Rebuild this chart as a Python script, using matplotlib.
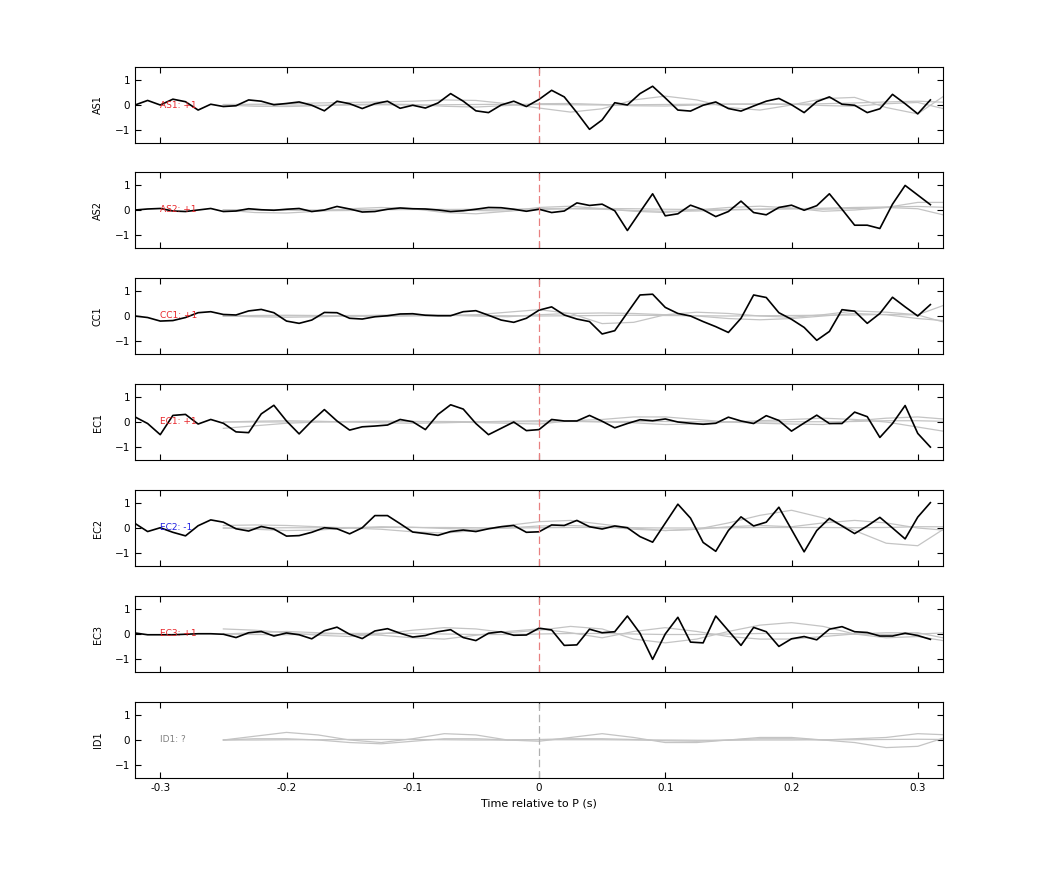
import numpy as np
import matplotlib.pyplot as plt

# ------------------------------
# data
# ------------------------------
t_black = np.round(np.arange(-0.32, 0.315, 0.01), 2)   # 64 samples
t_gray = np.round(np.arange(-0.25, 0.33, 0.025), 3)     # 24 samples

stations = ['AS1', 'AS2', 'CC1', 'EC1', 'EC2', 'EC3', 'ID1']
labels = ['AS1: +1', 'AS2: +1', 'CC1: +1', 'EC1: +1', 'EC2: -1', 'EC3: +1', 'ID1: ?']
label_colors = ['#e8262a', '#e8262a', '#e8262a', '#e8262a', '#2020e0', '#e8262a', '#808080']

as1 = [0, 0.18, 0, 0.23, 0.13, -0.2, 0.03, -0.06, -0.03, 0.2, 0.15, 0.01, 0.06, 0.12, -0.01, -0.23,
       0.15, 0.05, -0.14, 0.05, 0.15, -0.13, -0.01, -0.12, 0.08, 0.45, 0.15, -0.23, -0.3, 0, 0.15, -0.06,
       0.22, 0.58, 0.32, -0.3, -0.96, -0.59, 0.09, 0, 0.45, 0.74, 0.28, -0.2, -0.24, -0.01, 0.12, -0.14,
       -0.24, -0.04, 0.15, 0.26, 0.01, -0.3, 0.13, 0.32, 0.03, -0.01, -0.3, -0.15, 0.42, 0.05, -0.35, 0.2]
as2 = [0, 0.04, 0.06, -0.04, -0.06, 0, 0.06, -0.06, -0.04, 0.05, 0.01, -0.01, 0.03, 0.06, -0.06, 0,
       0.14, 0.04, -0.08, -0.06, 0.03, 0.08, 0.05, 0.04, 0, -0.06, -0.03, 0.03, 0.1, 0.09, 0.03, -0.05,
       0.03, -0.1, -0.04, 0.28, 0.18, 0.23, -0.03, -0.81, -0.08, 0.64, -0.23, -0.15, 0.19, 0.01, -0.26, -0.06,
       0.35, -0.1, -0.19, 0.1, 0.19, -0.01, 0.17, 0.64, 0.03, -0.6, -0.6, -0.73, 0.23, 0.97, 0.59, 0.21]
cc1 = [0, -0.06, -0.2, -0.18, -0.06, 0.13, 0.17, 0.06, 0.04, 0.2, 0.26, 0.13, -0.2, -0.29, -0.16, 0.14,
       0.13, -0.09, -0.12, -0.03, 0.01, 0.08, 0.09, 0.03, 0.01, 0.01, 0.17, 0.21, 0.03, -0.16, -0.25, -0.09,
       0.23, 0.36, 0.04, -0.12, -0.22, -0.71, -0.58, 0.13, 0.83, 0.86, 0.34, 0.1, 0, -0.22, -0.42, -0.65,
       -0.09, 0.83, 0.73, 0.13, -0.13, -0.45, -0.96, -0.61, 0.25, 0.19, -0.29, 0.1, 0.74, 0.36, 0, 0.45]
ec1 = [0.2, -0.06, -0.5, 0.26, 0.3, -0.08, 0.1, -0.05, -0.39, -0.42, 0.32, 0.66, 0.04, -0.47, 0.04, 0.49,
       0.04, -0.32, -0.19, -0.16, -0.12, 0.1, 0.01, -0.3, 0.3, 0.68, 0.51, -0.06, -0.5, -0.25, 0, -0.34,
       -0.3, 0.1, 0.04, 0.04, 0.26, 0.03, -0.23, -0.06, 0.09, 0.05, 0.12, 0, -0.05, -0.09, -0.05, 0.19,
       0.04, -0.06, 0.25, 0.06, -0.36, -0.04, 0.27, -0.06, -0.06, 0.39, 0.21, -0.61, -0.06, 0.65, -0.45, -0.99]
ec2 = [0.18, -0.14, 0.01, -0.17, -0.31, 0.09, 0.32, 0.23, -0.03, -0.12, 0.06, -0.04, -0.32, -0.3, -0.17, 0.01,
       -0.03, -0.23, 0.01, 0.49, 0.49, 0.17, -0.16, -0.22, -0.29, -0.14, -0.08, -0.14, -0.03, 0.05, 0.1, -0.17,
       -0.15, 0.12, 0.1, 0.3, 0.05, -0.04, 0.08, 0.01, -0.34, -0.56, 0.19, 0.94, 0.39, -0.57, -0.92, -0.1,
       0.44, 0.08, 0.23, 0.82, -0.06, -0.94, -0.1, 0.38, 0.08, -0.22, 0.08, 0.42, 0, -0.43, 0.43, 1.0]
ec3 = [0.04, -0.03, -0.03, -0.03, -0.01, 0.01, 0.01, -0.01, -0.14, 0.05, 0.1, -0.08, 0.04, -0.03, -0.19, 0.13,
       0.27, -0.01, -0.18, 0.12, 0.21, 0.03, -0.12, -0.06, 0.09, 0.17, -0.14, -0.26, 0.03, 0.09, -0.05, -0.04,
       0.23, 0.16, -0.45, -0.43, 0.19, 0.05, 0.09, 0.71, 0.03, -1.0, 0, 0.66, -0.32, -0.35, 0.71, 0.13,
       -0.45, 0.26, 0.09, -0.49, -0.19, -0.1, -0.23, 0.19, 0.29, 0.09, 0.06, -0.08, -0.08, 0.03, -0.06, -0.21]
black_traces = [as1, as2, cc1, ec1, ec2, ec3, None]

# smooth-ish reference traces (gray), sampled every 0.025 s from -0.25
gray_traces = [
    [[0.02, 0.03, 0.05, 0.08, 0.1, 0.12, 0.15, 0.2, 0.18, 0.05, -0.12, -0.28, -0.15, 0.2, 0.35, 0.2, -0.1, -0.2, 0.0, 0.25, 0.3, -0.1, -0.35, 0.5],
     [0, -0.05, -0.06, -0.03, 0.02, 0.04, 0.02, -0.05, -0.08, -0.02, 0.05, 0.06, 0.02, -0.03, -0.04, 0, 0.03, 0.05, 0.03, -0.02, -0.05, 0.05, 0.1, -0.2],
     [0, 0.01, 0, -0.01, 0, 0.01, 0, 0.01, 0.02, 0.03, 0.02, 0.01, 0, 0.01, 0.02, 0.03, 0.04, 0.02, 0.03, 0.05, 0.08, 0.12, 0.15, 0.1]],
    [[0, -0.1, -0.12, -0.05, 0.05, 0.1, 0.05, -0.1, -0.15, -0.05, 0.1, 0.15, 0.05, -0.05, -0.1, 0, 0.1, 0.15, 0.08, -0.05, 0, 0.1, 0.3, 0.3],
     [0, 0.02, 0, -0.03, -0.02, 0.02, 0.04, 0.02, -0.02, -0.04, 0.02, 0.05, 0.03, -0.02, -0.05, -0.04, 0, 0.03, 0.05, 0.03, 0.06, 0.1, 0.05, -0.25],
     [0, 0, 0, 0, 0.01, 0.01, 0.02, 0.02, 0.03, 0.03, 0.05, 0.06, 0.06, 0.05, 0.03, 0.02, 0.02, 0.03, 0.05, 0.07, 0.1, 0.12, 0.14, 0.1]],
    [[0, 0.02, 0.03, 0.02, 0, -0.02, 0, 0.02, 0.05, 0.15, 0.25, 0.1, -0.3, -0.25, 0.05, 0.15, 0.1, 0, -0.05, 0.05, 0.2, 0.15, 0.05, 0.5],
     [0, -0.03, -0.05, -0.03, 0, 0.03, 0.05, 0.03, 0, -0.03, 0.05, 0.1, 0.12, 0.1, 0.05, 0, -0.1, -0.15, -0.1, 0, 0.1, 0.05, -0.1, -0.2],
     [0, 0, 0.01, 0.01, 0.02, 0.02, 0.03, 0.03, 0.02, 0.01, 0, 0.01, 0.02, 0.03, 0.02, 0.01, 0, 0.01, 0.02, 0.03, 0.04, 0.06, 0.04, -0.3]],
    [[-0.25, -0.15, -0.05, 0.0, 0.02, 0.03, 0.02, 0.0, -0.02, -0.05, -0.08, 0.05, 0.1, 0.2, 0.2, 0.1, 0.0, -0.05, -0.08, -0.1, 0.05, 0.15, 0.2, 0.1],
     [0, 0.03, 0.05, 0.03, 0, -0.03, -0.05, -0.03, 0, 0.03, 0.05, 0.03, 0, -0.03, -0.1, -0.08, 0, 0.05, 0.1, 0.15, 0.1, 0, -0.2, -0.4],
     [0, 0, 0, 0.01, 0.01, 0.02, 0.02, 0.02, 0.01, 0.01, 0.01, 0.02, 0.02, 0.02, 0.02, 0.01, 0.01, 0, 0.01, 0.01, 0.02, 0.05, 0.05, 0.02]],
    [[0.1, 0.12, 0.1, 0.05, 0, -0.05, -0.15, -0.2, -0.1, 0.1, 0.25, 0.3, 0.15, 0, -0.1, -0.05, 0.2, 0.5, 0.7, 0.4, -0.1, -0.6, -0.7, 0.1],
     [0, -0.05, -0.1, -0.08, 0, 0.05, 0.03, -0.02, -0.05, 0, 0.08, 0.1, 0.05, -0.05, -0.1, -0.05, 0.05, 0.1, 0.05, 0.2, 0.3, 0.2, 0.0, -0.1],
     [0, 0, 0.01, 0.01, 0.02, 0.02, 0.02, 0.02, 0.01, 0, 0.01, 0.02, 0.02, 0.01, 0, 0, 0.01, 0.02, 0.02, 0.02, 0.01, 0.02, 0.05, 0.05]],
    [[0.2, 0.15, 0.05, -0.05, -0.1, 0.0, 0.15, 0.25, 0.2, 0.05, 0.15, 0.3, 0.2, -0.2, -0.35, -0.2, 0.1, 0.35, 0.45, 0.3, 0.0, -0.15, -0.1, -0.3],
     [0, 0.05, 0.1, 0.05, 0, -0.05, -0.15, -0.2, -0.05, 0.1, 0.2, 0.05, -0.15, 0.1, 0.25, 0.1, -0.1, -0.2, -0.2, -0.1, 0, 0.05, 0.05, -0.2],
     [0, -0.02, -0.03, 0, 0.02, 0.03, 0.02, 0, -0.02, -0.02, 0, 0.02, 0.02, 0, -0.02, -0.02, 0, 0.02, 0.03, 0.02, 0, -0.02, 0, 0.05]],
    [[0, 0.15, 0.3, 0.2, 0.0, -0.1, 0.05, 0.25, 0.2, 0.0, -0.05, 0.1, 0.25, 0.1, -0.1, -0.1, 0.0, 0.1, 0.1, 0.0, -0.1, -0.3, -0.25, 0.15],
     [0, 0.05, 0.05, 0.0, -0.1, -0.15, -0.05, 0.05, 0.05, 0, 0.02, 0.05, 0.05, 0.02, -0.03, -0.05, 0, 0.05, 0.05, 0.0, 0.05, 0.1, 0.25, 0.2],
     [0, 0, 0.01, 0.01, 0.02, 0.02, 0.02, 0.01, 0, 0, 0.01, 0.01, 0.01, 0, 0, -0.01, -0.01, 0, 0, 0.01, 0.01, 0.02, 0.03, 0.02]],
]

# ------------------------------
# plotting
# ------------------------------
fig = plt.figure(figsize=(10.42, 8.75), dpi=100)
W, H = 1042, 875
left, right = 135, 943
tops = [67, 172, 278, 384, 490, 596, 702]
ph = 76

for i, st in enumerate(stations):
    ax = fig.add_axes([left / W, 1 - (tops[i] + ph) / H, (right - left) / W, ph / H])
    for g in gray_traces[i]:
        ax.plot(t_gray, g, color='#c4c4c4', lw=0.9)
    if black_traces[i] is not None:
        ax.plot(t_black, black_traces[i], color='black', lw=1.2)
    ax.axvline(0, color='#e88080' if i < 6 else '#b0b0b0', lw=0.9, dashes=(6, 3))
    ax.text(-0.3, 0, labels[i], color=label_colors[i], fontsize=6.5, va='center', ha='left')
    ax.set_xlim(-0.32, 0.32)
    ax.set_ylim(-1.5, 1.5)
    ax.set_yticks([-1, 0, 1])
    ax.set_xticks([-0.3, -0.2, -0.1, 0, 0.1, 0.2, 0.3])
    ax.tick_params(direction='in', top=True, right=True, labelsize=7.5, length=4)
    ax.set_ylabel(st, fontsize=7)
    ax.yaxis.set_label_coords(-0.04, 0.5)
    if i < len(stations) - 1:
        ax.set_xticklabels([])
    else:
        ax.set_xticklabels(['-0.3', '-0.2', '-0.1', '0', '0.1', '0.2', '0.3'])
        ax.set_xlabel('Time relative to P (s)', fontsize=8)
    for s in ax.spines.values():
        s.set_linewidth(0.8)

fig.savefig('out.png', dpi=100)
